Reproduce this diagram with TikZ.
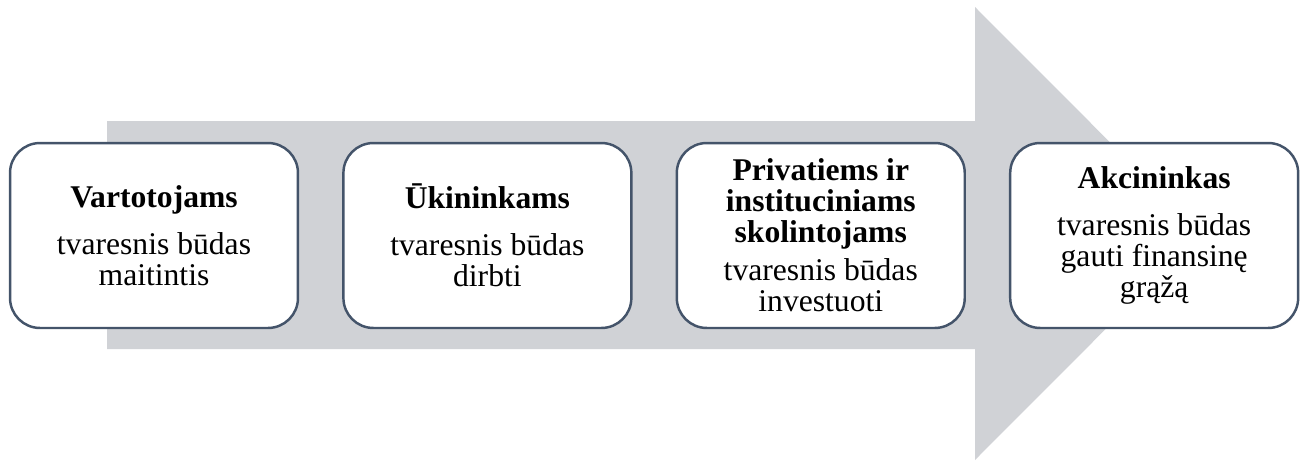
\documentclass[tikz,border=0pt]{standalone}
\usepackage{fontspec}
\setmainfont{Liberation Serif}
\usetikzlibrary{positioning}
\definecolor{boxedge}{RGB}{68,84,106}
\definecolor{arrowgray}{RGB}{208,210,214}

\begin{document}
\begin{tikzpicture}[x=0.02cm,y=0.02cm,
        stage/.style={draw=boxedge, line width=1.4pt, fill=white, rounded corners=0.6cm,
            minimum width=5.76cm, minimum height=3.7cm, inner sep=0pt, align=center,
            font=\fontsize{18pt}{17.6pt}\selectfont},
        node distance=0.86cm]
        \useasboundingbox (0,0) rectangle (1303,461);

        % Background arrow
        \fill[arrowgray] (107,112) -- (975,112) -- (975,1) -- (1201,227.5)
            -- (975,454) -- (975,340) -- (107,340) -- cycle;

        % Stages
        \node[stage] (vartotojai) at (154,225.5) {\textbf{Vartotojams}\\[9pt] tvaresnis būdas\\ maitintis};
        \node[stage, right=of vartotojai] (ukininkai) {\textbf{Ūkininkams}\\[9pt] tvaresnis būdas\\ dirbti};
        \node[stage, right=of ukininkai] (skolintojai) {\textbf{Privatiems ir}\\ \textbf{instituciniams}\\ \textbf{skolintojams}\\[4pt] tvaresnis būdas\\ investuoti};
        \node[stage, right=of skolintojai] (akcininkas) {\textbf{Akcininkas}\\[9pt] tvaresnis būdas\\ gauti finansinę\\ grąžą};
    \end{tikzpicture}
\end{document}
